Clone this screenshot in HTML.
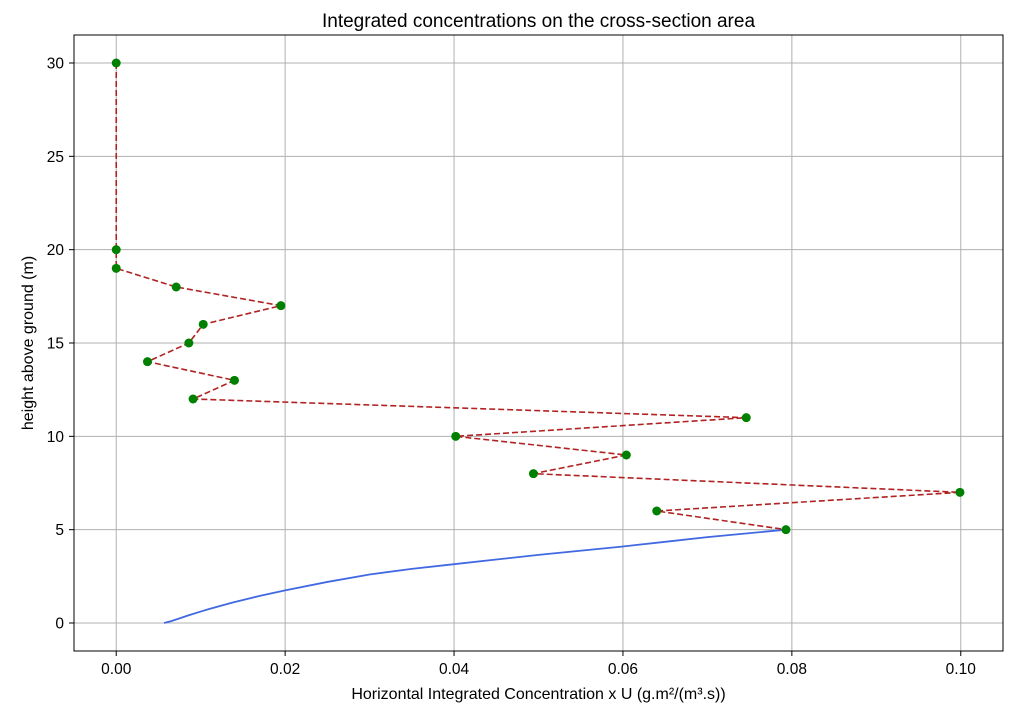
<!DOCTYPE html>
<html><head><meta charset="utf-8"><style>
body{margin:0;background:#fff}
svg text{font-family:"Liberation Sans","DejaVu Sans",sans-serif;fill:#000}
</style></head><body>
<svg id="c" width="1023" height="715" xmlns="http://www.w3.org/2000/svg"></svg>
<script>
const xTicks=[0,0.02,0.04,0.06,0.08,0.10];
const xTickLabels=["0.00","0.02","0.04","0.06","0.08","0.10"];
const yTicks=[0,5,10,15,20,25,30];
const yTickLabels=["0","5","10","15","20","25","30"];
const heights=[30,20,19,18,17,16,15,14,13,12,11,10,9,8,7,6,5];
const concs=[0,0,0,0.0071,0.0195,0.0103,0.0086,0.0037,0.0140,0.0091,0.0746,0.0402,0.0604,0.0494,0.0999,0.0640,0.0793];
const profileConc=[0.00567,0.0065,0.0075,0.0085,0.0099,0.011,0.0138,0.017,0.0200,0.025,0.030,0.035,0.040,0.045,0.050,0.060,0.065,0.070,0.0793];
const profileHeight=[0,0.1,0.25,0.4,0.6,0.75,1.1,1.45,1.75,2.2,2.6,2.9,3.15,3.4,3.65,4.1,4.35,4.6,5];
const L=74,R=1003,T=35,B=651,xmin=-0.005,xmax=0.105,ymin=-1.5,ymax=31.5;
const X=v=>L+(v-xmin)/(xmax-xmin)*(R-L);
const Y=v=>B-(v-ymin)/(ymax-ymin)*(B-T);
const s=document.getElementById('c');const NS='http://www.w3.org/2000/svg';
function mk(t,a,p){const e=document.createElementNS(NS,t);for(const k in a)e.setAttribute(k,a[k]);(p||s).appendChild(e);return e;}
const grid=mk('g',{});


xTicks.forEach((v,i)=>{
 mk('line',{x1:X(v),x2:X(v),y1:T,y2:B,stroke:'#b0b0b0','stroke-width':1},grid);
 mk('line',{x1:X(v),x2:X(v),y1:B,y2:B+5,stroke:'#000'});
 const t=mk('text',{x:X(v),y:B+23,'text-anchor':'middle','font-size':15.5});t.textContent=xTickLabels[i];
 
 
});
yTicks.forEach((v,i)=>{
 mk('line',{x1:L,x2:R,y1:Y(v),y2:Y(v),stroke:'#b0b0b0','stroke-width':1},grid);
 mk('line',{x1:L-5,x2:L,y1:Y(v),y2:Y(v),stroke:'#000'});
 const t=mk('text',{x:L-10,y:Y(v)+5.5,'text-anchor':'end','font-size':15.5});t.textContent=yTickLabels[i];
 
 
});
const prof=mk('polyline',{points:profileConc.map((c,i)=>X(c)+','+Y(profileHeight[i])).join(' '),fill:'none',stroke:'#4169e1','stroke-width':1.8});


const ln=mk('polyline',{points:concs.map((c,i)=>X(c)+','+Y(heights[i])).join(' '),fill:'none',stroke:'#b22222','stroke-width':1.6,'stroke-dasharray':'6,3'});


concs.forEach((c,i)=>{
 const p=mk('circle',{cx:X(c),cy:Y(heights[i]),r:4.5,fill:'#008000'});
 
 
});
const fr=mk('rect',{x:L,y:T,width:R-L,height:B-T,fill:'none',stroke:'#000','stroke-width':1});


let t=mk('text',{x:(L+R)/2,y:27,'text-anchor':'middle','font-size':19});t.textContent='Integrated concentrations on the cross-section area';


t=mk('text',{x:(L+R)/2,y:699,'text-anchor':'middle','font-size':16});t.textContent='Horizontal Integrated Concentration x U (g.m²/(m³.s))';


t=mk('text',{x:33,y:(T+B)/2,'text-anchor':'middle','font-size':16,transform:'rotate(-90 33 '+(T+B)/2+')'});t.textContent='height above ground (m)';


</script>
</body></html>
